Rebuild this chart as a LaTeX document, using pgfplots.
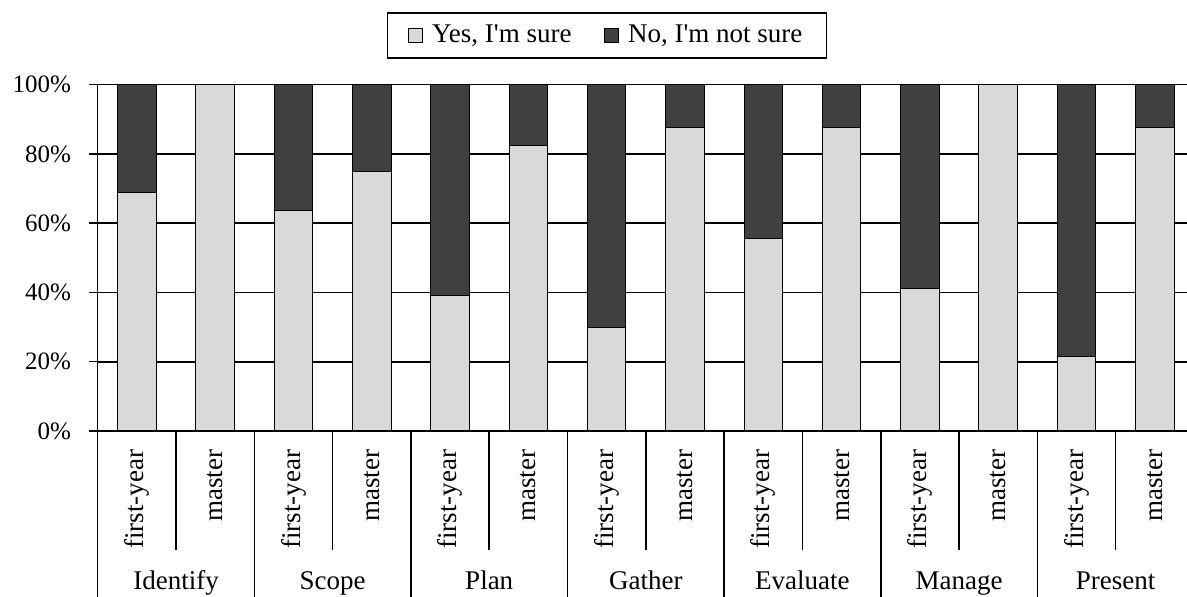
\documentclass[border=0pt]{standalone}
\usepackage{pgfplots}
\pgfplotsset{compat=1.18}
\usepackage{fontspec}
\setmainfont{Liberation Serif}
\definecolor{lightbar}{HTML}{D9D9D9}
\definecolor{darkbar}{HTML}{404040}
\begin{document}
\begin{tikzpicture}[font=\fontsize{13.5}{16}\selectfont]
\begin{axis}[
  at={(48.85pt,83pt)}, anchor=south west,
  width=548.15pt, height=173.15pt, scale only axis,
  ybar stacked, bar width=19.25pt,
  xmin=-0.5, xmax=13.5, ymin=0, ymax=100,
  xtick={0,...,13},
  xticklabels={first-year,master,first-year,master,first-year,master,first-year,master,first-year,master,first-year,master,first-year,master},
  x tick style={draw=none},
  xticklabel style={rotate=90, anchor=east, inner sep=0pt},
  xticklabel shift=5pt,
  ytick={0,20,40,60,80,100},
  yticklabels={0\%,20\%,40\%,60\%,80\%,100\%},
  yticklabel style={font=\fontsize{12.5}{15}\selectfont, inner sep=0pt},
  yticklabel shift=9pt,
  tick align=outside, major tick length=4.2pt,
  y tick style={black, line width=0.75pt},
  ymajorgrids, grid style={black, line width=0.8pt},
  axis x line*=bottom, axis y line*=left,
  axis line style={black, line width=0.8pt, -},
  clip=false,
  legend columns=2,
  legend style={at={(axis description cs:0.4646,1.142)}, anchor=center,
    draw=black, line width=0.75pt, inner xsep=10pt, inner ysep=4pt,
    /tikz/every even column/.append style={column sep=14pt},
    font=\fontsize{13.5}{16}\selectfont},
  legend image code/.code={\draw[#1, line width=0.5pt] (0pt,-3.5pt) rectangle (7pt,3.5pt);
    \path[draw=none, fill=none] (0pt,0pt) -- (10pt,0pt);},
]
\addplot[fill=lightbar, draw=black, line width=0.5pt] coordinates {
 (0,68.9) (1,100) (2,63.6) (3,75) (4,39.1) (5,82.4) (6,29.8) (7,87.5)
 (8,55.6) (9,87.5) (10,41.2) (11,100) (12,21.6) (13,87.5)};
\addlegendentry{Yes, I\textquotesingle m sure}
\addplot[fill=darkbar, draw=black, line width=0.5pt] coordinates {
 (0,31.1) (1,0) (2,36.4) (3,25) (4,60.9) (5,17.6) (6,70.2) (7,12.5)
 (8,44.4) (9,12.5) (10,58.8) (11,0) (12,78.4) (13,12.5)};
\addlegendentry{No, I\textquotesingle m not sure}
\pgfplotsinvokeforeach{-0.5,1.5,3.5,5.5,7.5,9.5,11.5,13.5}{
  \draw[black, line width=0.75pt] (axis cs:#1,0) -- (axis cs:#1,-48);
}
\pgfplotsinvokeforeach{0.5,2.5,4.5,6.5,8.5,10.5,12.5}{
  \draw[black, line width=0.75pt] (axis cs:#1,0) -- (axis cs:#1,-34.36);
}
\node[anchor=base] at (axis cs:0.5,-45.9) {Identify};
\node[anchor=base] at (axis cs:2.5,-45.9) {Scope};
\node[anchor=base] at (axis cs:4.5,-45.9) {Plan};
\node[anchor=base] at (axis cs:6.5,-45.9) {Gather};
\node[anchor=base] at (axis cs:8.5,-45.9) {Evaluate};
\node[anchor=base] at (axis cs:10.5,-45.9) {Manage};
\node[anchor=base] at (axis cs:12.5,-45.9) {Present};
\end{axis}
\pgfresetboundingbox
\path (0,0) rectangle (593.5pt,298.5pt);
\end{tikzpicture}
\end{document}
